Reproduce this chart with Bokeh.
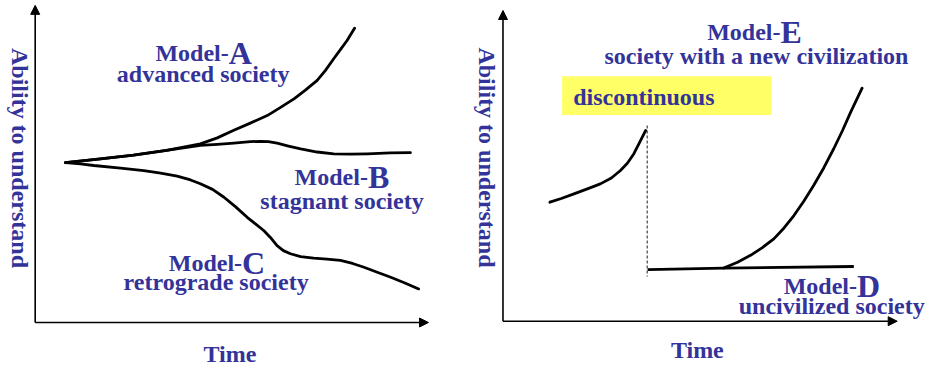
from bokeh.plotting import figure
from bokeh.models import Range1d, Label, Arrow, NormalHead
from bokeh.layouts import row
from bokeh.embed import file_html
from bokeh.resources import INLINE

# ---------------- data (time, ability to understand) ----------------
# Left panel
model_a_t = [7.7, 16.6, 25.0, 33.4, 42.0, 46.3, 50.5, 54.7, 59.0, 62.4, 65.8, 68.7,
             71.7, 73.8, 75.9, 77.6, 79.3, 81.2]
model_a_v = [50.9, 52.1, 53.3, 54.8, 56.9, 58.8, 61.2, 63.5, 65.9, 68.5, 71.2, 74.0,
             77.1, 80.3, 84.0, 86.9, 89.8, 93.7]

model_b_t = [7.7, 16.6, 25.0, 33.4, 42.0, 46.3, 50.5, 54.7, 57.3, 59.3, 61.5, 64.4,
             67.5, 71.7, 75.9, 80.2, 84.4, 90.3, 95.4]
model_b_v = [50.9, 52.1, 53.3, 54.8, 56.4, 56.7, 57.1, 57.6, 57.7, 57.6, 57.1, 56.2,
             55.3, 54.3, 53.7, 53.6, 53.7, 54.0, 54.1]

model_c_t = [7.7, 11.5, 14.9, 21.7, 27.6, 31.9, 36.1, 39.5, 42.0, 45.1, 48.0, 50.9,
             53.9, 56.0, 58.1, 59.8, 61.5, 63.1, 64.9, 67.5, 70.8, 74.2, 77.6, 80.7,
             83.6, 86.8, 90.4, 94.0, 97.5]
model_c_v = [50.9, 50.5, 50.0, 49.2, 48.4, 47.6, 46.6, 45.4, 44.2, 42.4, 39.9, 36.9,
             33.5, 31.4, 29.3, 27.1, 24.5, 22.9, 21.9, 21.0, 20.5, 20.2, 19.8, 18.8,
             17.6, 16.1, 14.4, 12.6, 10.7]

# Right panel
before_t = [11.9, 14.8, 18.0, 21.4, 24.7, 27.5, 29.8, 31.6, 33.2, 34.6, 36.2]
before_v = [38.3, 39.5, 41.0, 42.6, 44.2, 46.1, 48.5, 50.9, 53.9, 57.4, 61.4]

break_t = [36.6, 36.6]
break_v = [63.0, 14.4]

model_d_t = [36.7, 56.0, 89.0]
model_d_v = [16.6, 17.1, 17.6]

model_e_t = [56.0, 59.5, 62.8, 65.8, 68.7, 71.3, 73.8, 76.3, 78.8, 81.4, 83.9, 86.1, 88.2, 91.1]
model_e_v = [17.1, 19.0, 21.2, 23.7, 26.5, 30.0, 34.0, 38.6, 43.7, 49.4, 55.5, 61.3, 67.3, 75.0]

# texts
x_title = "Time"
y_title = "Ability to understand"
left_models = ["A", "B", "C"]
left_desc = ["advanced society", "stagnant society", "retrograde society"]
right_models = ["E", "D"]
right_desc = ["society with a new civilization", "uncivilized society"]
box_text = "discontinuous"

BLUE = "#333399"
FONT = "Liberation Serif"


def lab(p, x, y, text, size="24px", align="left", angle=0.0, color=BLUE):
    p.add_layout(Label(x=x, y=y, text=text, text_font=FONT, text_font_style="bold",
                       text_font_size=size, text_color=color, text_align=align,
                       text_baseline="alphabetic", angle=angle))


def model_label(p, x, y, letter):
    lab(p, x, y, "Model-", "24px", "right")
    lab(p, x, y, letter, "32px", "left")


def make_fig(xr, yr):
    p = figure(width=465, height=366, x_range=Range1d(*xr), y_range=Range1d(*yr),
               output_backend="svg", toolbar_location=None, min_border=0,
               x_axis_location=None, y_axis_location=None)
    p.grid.visible = False
    p.outline_line_color = None
    p.background_fill_color = "white"
    p.border_fill_color = "white"
    return p


def axes(p, ytop):
    p.add_layout(Arrow(end=NormalHead(size=9, fill_color="black", line_color="black"),
                       x_start=0, y_start=0, x_end=0, y_end=ytop,
                       line_width=1.6, line_color="black"))
    p.add_layout(Arrow(end=NormalHead(size=9, fill_color="black", line_color="black"),
                       x_start=0, y_start=0, x_end=100, y_end=0,
                       line_width=1.6, line_color="black"))


CURVE = dict(line_width=2.8, line_color="black", line_join="round", line_cap="round")

# ---------------- left panel ----------------
p1 = make_fig((-8.82, 109.41), (-14.01, 102.55))
axes(p1, 101.0)
for t, v in [(model_a_t, model_a_v), (model_b_t, model_b_v), (model_c_t, model_c_v)]:
    p1.line(t, v, **CURVE)

model_label(p1, 49.2, 85.7, left_models[0])
lab(p1, 42.7, 79.2, left_desc[0], align="center")
model_label(p1, 84.6, 46.4, left_models[1])
lab(p1, 78.0, 38.6, left_desc[1], align="center")
model_label(p1, 52.6, 19.0, left_models[2])
lab(p1, 46.0, 12.9, left_desc[2], align="center")
lab(p1, 49.5, -10.0, x_title, align="center")
lab(p1, -3.8, 52.4, y_title, align="center", angle=-1.5707963)

# ---------------- right panel ----------------
p2 = make_fig((-9.51, 108.45), (-14.58, 103.22))
axes(p2, 100.0)
p2.quad(left=[15.0], right=[68.1], bottom=[66.4], top=[78.8],
        fill_color="#FFFF66", line_color=None)
p2.line(break_t, break_v, line_width=1.5, line_color="#666666", line_dash="3 2")
p2.line(before_t, before_v, **CURVE)
p2.line(model_d_t, model_d_v, line_width=2.8, line_color="black")
p2.line(model_e_t, model_e_v, **CURVE)

model_label(p2, 70.4, 93.0, right_models[0])
lab(p2, 64.3, 85.4, right_desc[0], align="center")
lab(p2, 17.8, 72.1, box_text)
model_label(p2, 89.8, 11.2, right_models[1])
lab(p2, 83.4, 4.8, right_desc[1], align="center")
lab(p2, 49.3, -9.3, x_title, align="center")
lab(p2, -4.0, 52.7, y_title, align="center", angle=-1.5707963)

layout = row(p1, p2)
open("out.html", "w").write(file_html(layout, INLINE))
